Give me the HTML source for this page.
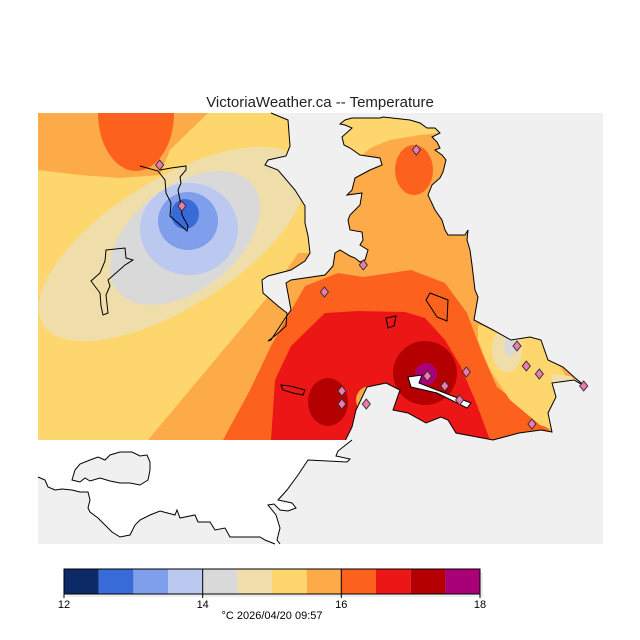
<!DOCTYPE html>
<html><head><style>
html,body{margin:0;padding:0;background:#fff;}
svg{display:block;font-family:"Liberation Sans","DejaVu Sans",sans-serif;}
</style></head><body>
<svg width="640" height="640" viewBox="0 0 640 640">
<rect width="640" height="640" fill="#fff"/>
<text x="320" y="107" text-anchor="middle" font-size="15" fill="#222">VictoriaWeather.ca -- Temperature</text>
<rect x="38" y="113" width="565" height="431" fill="#f0f0f0"/>
<defs>
<clipPath id="land">
<polygon points="38,113 271,113 288,120 290,146 286,156 268,160 265,165 278,170 295,190 305,206 305,223 308,236 310,253 305,261 291,270 268,276 262,280 263,293 278,306 287,313 286,326 276,335 268,341 271,340 284,320 291,310 286,283 291,280 325,275 333,266 335,253 340,250 350,256 355,258 360,262 365,260 368,250 360,245 363,240 362,232 350,230 348,220 350,215 360,205 362,193 347,195 352,190 355,178 370,170 382,165 380,158 360,155 350,148 344,145 342,137 352,128 345,125 340,124 345,120 352,118 380,118 383,117 410,120 420,123 427,128 435,128 440,133 432,137 437,142 440,148 435,150 442,155 446,160 443,172 440,178 432,185 428,195 435,210 442,220 445,230 448,235 465,235 468,230 467,240 470,250 472,265 475,290 478,297 474,320 493,330 511,340 530,337 541,340 548,360 563,367 574,377 586,387 574,380 552,383 556,397 548,413 552,432 541,430 519,433 493,440 456,433 448,420 441,417 426,423 408,413 393,410 400,390 386,383 367,387 356,410 352,427 345,441 38,440"/>
</clipPath>
</defs>
<g clip-path="url(#land)">
<rect x="38" y="113" width="565" height="331" fill="#fdaa48"/>
<polygon points="38,170 80,175 120,178 160,175 170,150 208,113 300,113 315,253 298,253 271,293 148,440 38,440" fill="#fed66e"/>
<polygon points="340,113 440,113 440,133 420,135 390,140 370,148 360,157 340,157" fill="#fed66e"/>
<ellipse cx="136" cy="113" rx="38" ry="58" fill="#fc621e"/>
<ellipse cx="172" cy="244" rx="152" ry="64" transform="rotate(-32 172 244)" fill="#f0deaa"/>
<ellipse cx="185" cy="238" rx="86" ry="52" transform="rotate(-38 185 238)" fill="#d9d9d9"/>
<ellipse cx="189" cy="229" rx="49" ry="46" fill="#bbc8f0"/>
<ellipse cx="188" cy="221" rx="30" ry="29" fill="#7f9eec"/>
<ellipse cx="185" cy="214" rx="14" ry="15" fill="#396bd8"/>
<ellipse cx="414" cy="170" rx="19" ry="25" fill="#fc621e"/>
<polygon points="223,440 250,390 271,346 305,286 338,273 363,277 411,270 445,283 467,313 482,353 497,387 523,407 549,430 560,445" fill="#fc621e"/>
<polygon points="271,440 275,380 291,346 325,313 358,311 405,312 425,318 445,340 460,365 475,400 490,440" fill="#ec1616"/>
<ellipse cx="425" cy="373" rx="32" ry="32" fill="#b40000"/>
<ellipse cx="328" cy="402" rx="20" ry="24" fill="#b40000"/>
<ellipse cx="426" cy="374" rx="11" ry="11" fill="#aa0077"/>
<ellipse cx="370" cy="400" rx="14" ry="14" fill="#fdaa48"/>
<polygon points="478,325 500,330 540,335 565,375 580,385 560,400 555,430 540,425 510,400 490,370 478,340" fill="#fed66e"/>
<ellipse cx="507" cy="350" rx="15" ry="22" fill="#f0deaa"/>
<ellipse cx="510" cy="346" rx="6" ry="10" fill="#d9d9d9"/>
<polygon points="550,374 570,376 586,387 575,390 555,388" fill="#f0deaa"/>
<ellipse cx="580" cy="384" rx="7" ry="5" fill="#bbc8f0"/>
</g>
<polyline points="271,113 288,120 290,146 286,156 268,160 265,165 278,170 295,190 305,206 305,223 308,236 310,253 305,261 291,270 268,276 262,280 263,293 278,306 287,313 286,326 276,335 268,341 271,340 284,320 291,310 286,283 291,280 325,275 333,266 335,253 340,250 350,256 355,258 360,262 365,260 368,250 360,245 363,240 362,232 350,230 348,220 350,215 360,205 362,193 347,195 352,190 355,178 370,170 382,165 380,158 360,155 350,148 344,145 342,137 352,128 345,125 340,124 345,120 352,118 380,118 383,117 410,120 420,123 427,128 435,128 440,133 432,137 437,142 440,148 435,150 442,155 446,160 443,172 440,178 432,185 428,195 435,210 442,220 445,230 448,235 465,235 468,230 467,240 470,250 472,265 475,290 478,297 474,320 493,330 511,340 530,337 541,340 548,360 563,367 574,377 586,387 574,380 552,383 556,397 548,413 552,432 541,430 519,433 493,440 456,433 448,420 441,417 426,423 408,413 393,410 400,390 386,383 367,387 356,410 352,427 345,441" fill="none" stroke="#000" stroke-width="1"/>
<polygon points="38,440 352,440 338,451 336,456 350,459 347,462 308,460 298,475 287,490 278,500 292,503 296,508 288,511 280,510 274,504 268,505 276,515 280,528 277,540 280,544 275,544 265,540 260,537 230,537 225,528 215,530 210,522 198,522 195,515 180,518 177,510 175,515 160,511 150,515 140,520 135,525 130,535 120,537 112,532 105,525 98,518 90,512 88,508 90,500 88,492 80,492 72,490 62,489 55,490 48,487 45,480 38,477" fill="#fff"/>
<polyline points="352,440 338,451 336,456 350,459 347,462 308,460 298,475 287,490 278,500 292,503 296,508 288,511 280,510 274,504 268,505 276,515 280,528 277,540 280,544" fill="none" stroke="#000"/>
<polyline points="275,544 265,540 260,537 230,537 225,528 215,530 210,522 198,522 195,515 180,518 177,510 175,515 160,511 150,515 140,520 135,525 130,535 120,537 112,532 105,525 98,518 90,512 88,508 90,500 88,492 80,492 72,490 62,489 55,490 48,487 45,480 38,477" fill="none" stroke="#000"/>
<polygon points="72,480 75,470 80,464 90,460 98,457 105,460 110,455 120,452 132,452 140,456 147,455 150,462 150,470 148,480 140,485 130,483 120,483 110,481 100,478 90,481 85,478 80,482" fill="#f0f0f0" stroke="#000"/>
<polyline points="140,166 158,171 165,180 166,193 171,203 170,216 178,223 187,231 188,226 182,215 180,200 178,190 181,183 180,177 186,170 186,166 171,168 160,170" fill="none" stroke="#000"/>
<polygon points="106,250 125,248 126,258 133,260 125,265 108,280 110,286 106,295 108,313 103,315 101,306 100,293 91,281 100,273 105,261" fill="none" stroke="#000"/>
<polygon points="281,385 290,386 305,390 303,395 293,393 283,390" fill="none" stroke="#000"/>
<polygon points="430,293 448,300 447,321 437,317 426,300" fill="none" stroke="#000"/>
<polygon points="386,318 396,316 394,326 388,328" fill="none" stroke="#000"/>
<polygon points="408,377 422,375 419,383 437,390 471,403 467,408 437,393 411,387" fill="#fff" stroke="#000"/>
<g fill="#f07ab0" stroke="#333" stroke-width="1">
<path d="M159.6,160 l4,5 -4,5 -4,-5z"/>
<path d="M181.9,201 l4,5 -4,5 -4,-5z"/>
<path d="M416.3,145 l4,5 -4,5 -4,-5z"/>
<path d="M363.3,260 l4,5 -4,5 -4,-5z"/>
<path d="M324.4,287 l4,5 -4,5 -4,-5z"/>
<path d="M517,341 l4,5 -4,5 -4,-5z"/>
<path d="M526.3,361 l4,5 -4,5 -4,-5z"/>
<path d="M539.3,369 l4,5 -4,5 -4,-5z"/>
<path d="M583.7,381 l4,5 -4,5 -4,-5z"/>
<path d="M466.3,367 l4,5 -4,5 -4,-5z"/>
<path d="M444.8,381 l4,5 -4,5 -4,-5z"/>
<path d="M427.4,371 l4,5 -4,5 -4,-5z"/>
<path d="M459.6,395 l4,5 -4,5 -4,-5z"/>
<path d="M341.9,386 l4,5 -4,5 -4,-5z"/>
<path d="M341.9,399 l4,5 -4,5 -4,-5z"/>
<path d="M366.3,399 l4,5 -4,5 -4,-5z"/>
<path d="M531.9,419 l4,5 -4,5 -4,-5z"/>
</g>
<rect x="67" y="572" width="416" height="25" fill="#eee"/>
<g stroke="none">
<rect x="64" y="569" width="34.7" height="25" fill="#0c2a66"/>
<rect x="98.7" y="569" width="34.7" height="25" fill="#396bd8"/>
<rect x="133.3" y="569" width="34.7" height="25" fill="#7f9eec"/>
<rect x="168" y="569" width="34.7" height="25" fill="#bbc8f0"/>
<rect x="202.7" y="569" width="34.7" height="25" fill="#d9d9d9"/>
<rect x="237.3" y="569" width="34.7" height="25" fill="#f0deaa"/>
<rect x="272" y="569" width="34.7" height="25" fill="#fed66e"/>
<rect x="306.7" y="569" width="34.7" height="25" fill="#fdaa48"/>
<rect x="341.3" y="569" width="34.7" height="25" fill="#fc621e"/>
<rect x="376" y="569" width="34.7" height="25" fill="#ec1616"/>
<rect x="410.7" y="569" width="34.7" height="25" fill="#b40000"/>
<rect x="445.3" y="569" width="34.7" height="25" fill="#aa0077"/>
</g>
<rect x="64" y="569" width="416" height="25" fill="none" stroke="#000" stroke-width="1"/>
<g stroke="#000" stroke-width="1">
<line x1="64" y1="569" x2="64" y2="598"/><line x1="202.7" y1="569" x2="202.7" y2="598"/>
<line x1="341.3" y1="569" x2="341.3" y2="598"/><line x1="480" y1="569" x2="480" y2="598"/>
</g>
<g font-size="11" fill="#000" text-anchor="middle">
<text x="64" y="608">12</text><text x="202.7" y="608">14</text>
<text x="341.3" y="608">16</text><text x="480" y="608">18</text>
<text x="272" y="619">°C  2026/04/20 09:57</text>
</g>
</svg>
</body></html>
